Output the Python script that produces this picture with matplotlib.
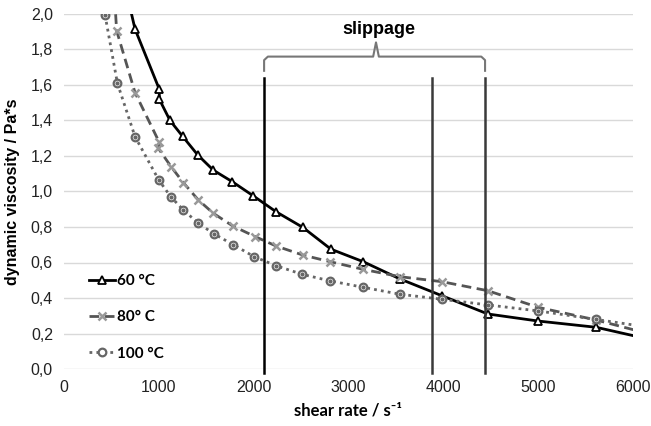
import matplotlib
matplotlib.use("Agg")
import matplotlib.pyplot as plt
from matplotlib.ticker import FuncFormatter

# shear rate [1/s] and dynamic viscosity [Pa*s]
rate_60 = [560, 749, 1005, 1005, 1118, 1252, 1410, 1575, 1775, 1997, 2236,
           2518, 2815, 3158, 3544, 3984, 4469, 5003, 5612, 6300]
visc_60 = [2.35, 1.915, 1.576, 1.52, 1.40, 1.31, 1.206, 1.12, 1.055, 0.975,
           0.886, 0.798, 0.675, 0.604, 0.507, 0.413, 0.31, 0.27, 0.235, 0.152]

rate_80 = [430, 555, 749, 1002, 995, 1129, 1258, 1417, 1575, 1779, 2015,
           2236, 2518, 2810, 3158, 3544, 3984, 4469, 5003, 5612, 6300]
visc_80 = [3.0, 1.906, 1.557, 1.28, 1.243, 1.14, 1.05, 0.952, 0.877, 0.806,
           0.746, 0.693, 0.642, 0.604, 0.561, 0.52, 0.492, 0.441, 0.347,
           0.276, 0.18]

rate_100 = [433, 563, 749, 999, 1125, 1258, 1410, 1582, 1786, 2004, 2236,
            2514, 2810, 3158, 3544, 3984, 4469, 5003, 5612, 6300]
visc_100 = [1.994, 1.61, 1.309, 1.065, 0.971, 0.896, 0.824, 0.761, 0.70,
            0.633, 0.582, 0.533, 0.496, 0.46, 0.421, 0.393, 0.361, 0.327,
            0.279, 0.225]

labels = ["60 °C", "80° C", "100 °C"]

# slippage region markers
slip_lines = [2110, 3880, 4440]
slip_colors = ["black", "#3a3a3a", "#3a3a3a"]

fig = plt.figure(figsize=(6.51, 4.26), dpi=100)
ax = fig.add_axes([64 / 651, 1 - 369 / 426, (633 - 64) / 651, (369 - 14) / 426])

ax.plot(rate_60, visc_60, color="black", lw=2, marker="^", ms=5.5,
        mfc="white", mec="black", mew=1.3, label=labels[0])
ax.plot(rate_80, visc_80, color="#555555", lw=2, ls=(0, (3.5, 2)), marker="x",
        ms=6, mec="#999999", mew=1.8, label=labels[1])
ax.plot(rate_100, visc_100, color="#666666", lw=2, ls=(0, (1, 1.5)), marker="o",
        ms=5.5, mfc="white", mec="#666666", mew=1.6, label=labels[2])
ax.plot(rate_100, visc_100, ls="none", marker="o", ms=2, color="#666666")

for xv, c in zip(slip_lines, slip_colors):
    ax.plot([xv, xv], [-0.02, 1.64], color=c, lw=1.8, clip_on=False, zorder=5)

# curly brace over the slippage region
bl, br, bc = 2110, 4440, 3290
by, tip, peak = 1.76, 1.68, 1.84
ax.plot([bl, bl, bl + 40, bc - 30, bc, bc + 30, br - 40, br, br],
        [tip, by - 0.02, by, by, peak, by, by, by - 0.02, tip],
        color="#777777", lw=1.5, clip_on=False, solid_joinstyle="round")
ax.text(bc + 30, 1.91, "slippage", ha="center", va="center", fontsize=13,
        fontweight="bold", family="Liberation Sans")

ax.set_xlim(0, 6000)
ax.set_ylim(0, 2.0)
ax.set_xticks(range(0, 6001, 1000))
ax.set_yticks([i / 5 for i in range(11)])
ax.yaxis.set_major_formatter(FuncFormatter(lambda v, p: f"{v:.1f}".replace(".", ",")))
ax.grid(axis="y", color="#d9d9d9", lw=1)
ax.set_axisbelow(True)
for s in ax.spines.values():
    s.set_visible(False)
ax.tick_params(length=0, labelsize=11.5, colors="#222222", pad=8)
for t in ax.get_xticklabels() + ax.get_yticklabels():
    t.set_family("Liberation Sans")

ax.set_xlabel("shear rate / s⁻¹", fontsize=12, fontweight="bold",
              family="Lato", labelpad=5)
ax.set_ylabel("dynamic viscosity / Pa*s", fontsize=11.5, fontweight="bold",
              family="Liberation Sans", labelpad=8)

leg = ax.legend(loc="lower left", bbox_to_anchor=(0.02, -0.015), frameon=False,
                handlelength=1.7, handletextpad=0.1, labelspacing=1.45,
                prop={"family": "Lato", "weight": "bold", "size": 11})

fig.savefig("out.png", dpi=100)
